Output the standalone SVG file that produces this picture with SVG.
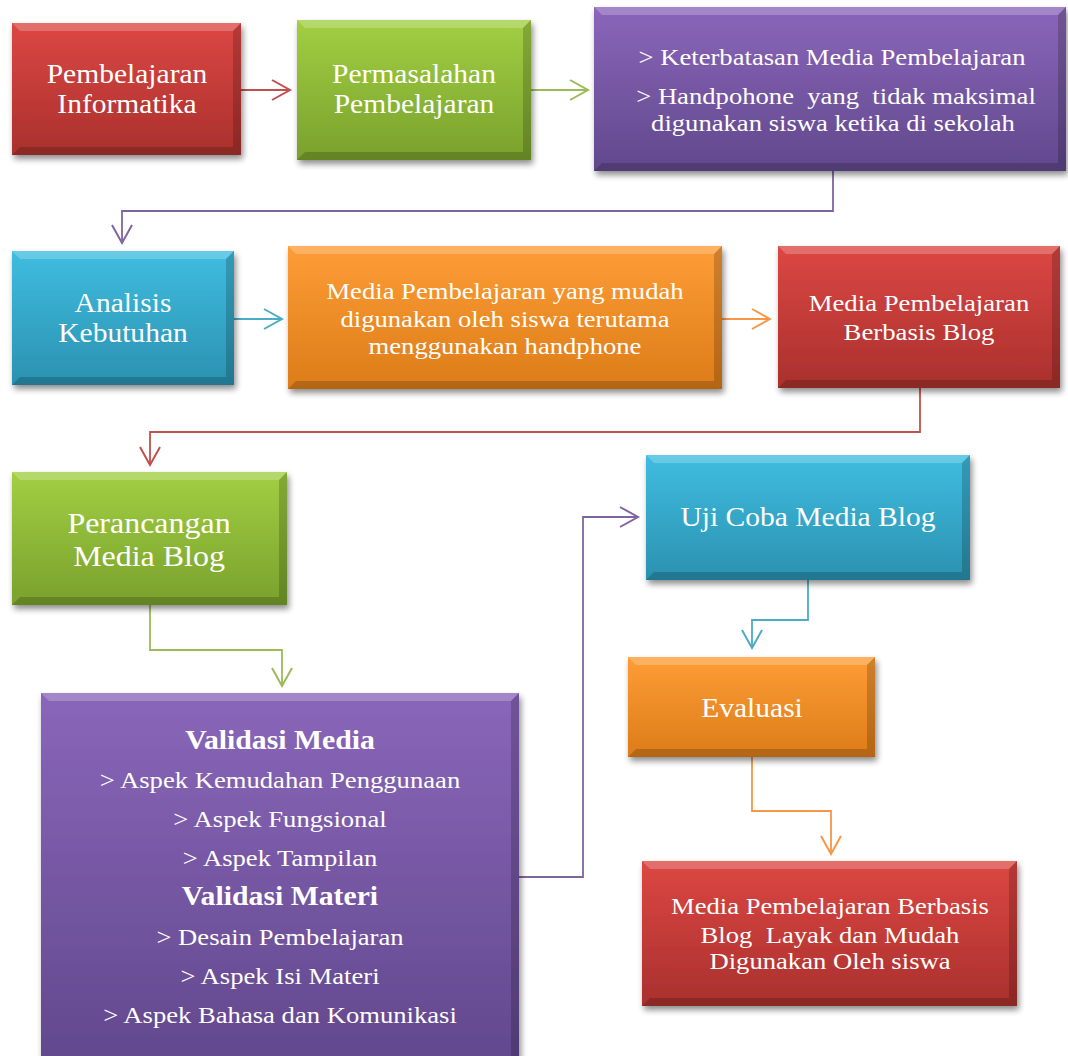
<svg xmlns="http://www.w3.org/2000/svg" width="1068" height="1056" viewBox="0 0 1068 1056">
<defs>
<linearGradient id="gRed" x1="0" y1="0" x2="0" y2="1"><stop offset="0" stop-color="#dc4743"/><stop offset="1" stop-color="#a9302d"/></linearGradient>
<linearGradient id="gGreen" x1="0" y1="0" x2="0" y2="1"><stop offset="0" stop-color="#a2cf43"/><stop offset="1" stop-color="#79a12c"/></linearGradient>
<linearGradient id="gPurple" x1="0" y1="0" x2="0" y2="1"><stop offset="0" stop-color="#8a66ba"/><stop offset="1" stop-color="#61488c"/></linearGradient>
<linearGradient id="gCyan" x1="0" y1="0" x2="0" y2="1"><stop offset="0" stop-color="#3fbde0"/><stop offset="1" stop-color="#2b91b0"/></linearGradient>
<linearGradient id="gOrange" x1="0" y1="0" x2="0" y2="1"><stop offset="0" stop-color="#fe9d36"/><stop offset="1" stop-color="#dc7c19"/></linearGradient>
<filter id="shadow" x="-10%" y="-10%" width="125%" height="130%">
<feGaussianBlur in="SourceAlpha" stdDeviation="3"/>
<feOffset dx="2" dy="4" result="o"/>
<feComponentTransfer><feFuncA type="linear" slope="0.45"/></feComponentTransfer>
<feMerge><feMergeNode/><feMergeNode in="SourceGraphic"/></feMerge>
</filter>
<marker id="aRed" markerUnits="userSpaceOnUse" markerWidth="24" markerHeight="24" viewBox="-20 -12 24 24" refX="0" refY="0" orient="auto"><path d="M-18,-10 L0,0 L-18,10" fill="none" stroke="#c0504d" stroke-width="2"/></marker>
<marker id="aGreen" markerUnits="userSpaceOnUse" markerWidth="24" markerHeight="24" viewBox="-20 -12 24 24" refX="0" refY="0" orient="auto"><path d="M-18,-10 L0,0 L-18,10" fill="none" stroke="#9bbb59" stroke-width="2"/></marker>
<marker id="aPurple" markerUnits="userSpaceOnUse" markerWidth="24" markerHeight="24" viewBox="-20 -12 24 24" refX="0" refY="0" orient="auto"><path d="M-18,-10 L0,0 L-18,10" fill="none" stroke="#8064a2" stroke-width="2"/></marker>
<marker id="aCyan" markerUnits="userSpaceOnUse" markerWidth="24" markerHeight="24" viewBox="-20 -12 24 24" refX="0" refY="0" orient="auto"><path d="M-18,-10 L0,0 L-18,10" fill="none" stroke="#4bacc6" stroke-width="2"/></marker>
<marker id="aOrange" markerUnits="userSpaceOnUse" markerWidth="24" markerHeight="24" viewBox="-20 -12 24 24" refX="0" refY="0" orient="auto"><path d="M-18,-10 L0,0 L-18,10" fill="none" stroke="#f79646" stroke-width="2"/></marker>
</defs>
<style>
.box{filter:url(#shadow)}
.red{fill:url(#gRed)}
.green{fill:url(#gGreen)}
.purple{fill:url(#gPurple)}
.cyan{fill:url(#gCyan)}
.orange{fill:url(#gOrange)}
.hl{fill:#ffffff;fill-opacity:0.22}
.sd{fill:#000000;fill-opacity:0.18}
text{fill:#ffffff;text-anchor:middle}
.t29{font-size:26.6px}
.t265{font-size:24px}
.t27{font-size:24.1px}
.t32{font-size:28.8px}
.b{font-weight:bold;font-size:26.8px}
.c{fill:none;stroke-width:1.8}
</style>
<rect width="1068" height="1056" fill="#ffffff"/>

<g id="connectors">
<path class="c" stroke="#c0504d" d="M241,90 H290" marker-end="url(#aRed)"/>
<path class="c" stroke="#9bbb59" d="M531,90 H588" marker-end="url(#aGreen)"/>
<path class="c" stroke="#8064a2" d="M833,171 V211 H122 V243" marker-end="url(#aPurple)"/>
<path class="c" stroke="#4bacc6" d="M234,319 H282" marker-end="url(#aCyan)"/>
<path class="c" stroke="#f79646" d="M722,319 H770" marker-end="url(#aOrange)"/>
<path class="c" stroke="#c0504d" d="M920,388 V432 H150 V465" marker-end="url(#aRed)"/>
<path class="c" stroke="#9bbb59" d="M150,605 V650 H282 V686" marker-end="url(#aGreen)"/>
<path class="c" stroke="#8064a2" d="M519,877 H583 V517 H638" marker-end="url(#aPurple)"/>
<path class="c" stroke="#4bacc6" d="M808,580 V620 H752 V648" marker-end="url(#aCyan)"/>
<path class="c" stroke="#f79646" d="M752,757 V811 H831 V854" marker-end="url(#aOrange)"/>
</g>

<g font-family="'Liberation Serif', 'DejaVu Serif', serif">
<g id="n1">
<rect class="box red" x="12" y="23" width="229" height="132"/>
<path class="hl" d="M12,23 H241 L233,31 H20 Z"/>
<path class="sd" d="M241,23 V155 H12 L20,147 H233 V31 Z"/>
<text class="t29" x="0" y="83" transform="matrix(1.11 0 0 1 127 0)">Pembelajaran</text>
<text class="t29" x="0" y="113" transform="matrix(1.11 0 0 1 127 0)">Informatika</text>
</g>

<g id="n2">
<rect class="box green" x="297" y="20" width="234" height="140"/>
<path class="hl" d="M297,20 H531 L523,28 H305 Z"/>
<path class="sd" d="M531,20 V160 H297 L305,152 H523 V28 Z"/>
<text class="t29" x="0" y="83" transform="matrix(1.11 0 0 1 414 0)">Permasalahan</text>
<text class="t29" x="0" y="113" transform="matrix(1.11 0 0 1 414 0)">Pembelajaran</text>
</g>

<g id="n3">
<rect class="box purple" x="594" y="7" width="472" height="164"/>
<path class="hl" d="M594,7 H1066 L1058,15 H602 Z"/>
<path class="sd" d="M1066,7 V171 H594 L602,163 H1058 V15 Z"/>
<text class="t265" x="0" y="65" transform="matrix(1.11 0 0 1 832 0)">&gt; Keterbatasan Media Pembelajaran</text>
<text class="t265" x="0" y="104" transform="matrix(1.11 0 0 1 836 0)" xml:space="preserve">&gt; Handpohone  yang  tidak maksimal</text>
<text class="t265" x="0" y="131" transform="matrix(1.11 0 0 1 833 0)">digunakan siswa ketika di sekolah</text>
</g>

<g id="n4">
<rect class="box cyan" x="12" y="251" width="222" height="134"/>
<path class="hl" d="M12,251 H234 L226,259 H20 Z"/>
<path class="sd" d="M234,251 V385 H12 L20,377 H226 V259 Z"/>
<text class="t29" x="0" y="312" transform="matrix(1.11 0 0 1 123 0)">Analisis</text>
<text class="t29" x="0" y="342" transform="matrix(1.11 0 0 1 123 0)">Kebutuhan</text>
</g>

<g id="n5">
<rect class="box orange" x="288" y="246" width="434" height="143"/>
<path class="hl" d="M288,246 H722 L714,254 H296 Z"/>
<path class="sd" d="M722,246 V389 H288 L296,381 H714 V254 Z"/>
<text class="t265" x="0" y="299" transform="matrix(1.11 0 0 1 505 0)">Media Pembelajaran yang mudah</text>
<text class="t265" x="0" y="327" transform="matrix(1.11 0 0 1 505 0)">digunakan oleh siswa terutama</text>
<text class="t265" x="0" y="354" transform="matrix(1.11 0 0 1 505 0)">menggunakan handphone</text>
</g>

<g id="n6">
<rect class="box red" x="778" y="246" width="282" height="142"/>
<path class="hl" d="M778,246 H1060 L1052,254 H786 Z"/>
<path class="sd" d="M1060,246 V388 H778 L786,380 H1052 V254 Z"/>
<text class="t27" x="0" y="311" transform="matrix(1.11 0 0 1 919 0)">Media Pembelajaran</text>
<text class="t27" x="0" y="340" transform="matrix(1.11 0 0 1 919 0)">Berbasis Blog</text>
</g>

<g id="n7">
<rect class="box green" x="12" y="472" width="275" height="133"/>
<path class="hl" d="M12,472 H287 L279,480 H20 Z"/>
<path class="sd" d="M287,472 V605 H12 L20,597 H279 V480 Z"/>
<text class="t32" x="0" y="533" transform="matrix(1.11 0 0 1 149 0)">Perancangan</text>
<text class="t32" x="0" y="566" transform="matrix(1.11 0 0 1 149 0)">Media Blog</text>
</g>

<g id="n8">
<rect class="box purple" x="41" y="693" width="478" height="375"/>
<path class="hl" d="M41,693 H519 L511,701 H49 Z"/>
<path class="sd" d="M519,693 V1068 H511 V701 Z"/>
<text class="b" x="0" y="749" transform="matrix(1.11 0 0 1 280 0)">Validasi Media</text>
<text class="t265" x="0" y="788" transform="matrix(1.11 0 0 1 280 0)">&gt; Aspek Kemudahan Penggunaan</text>
<text class="t265" x="0" y="827" transform="matrix(1.11 0 0 1 280 0)">&gt; Aspek Fungsional</text>
<text class="t265" x="0" y="866" transform="matrix(1.11 0 0 1 280 0)">&gt; Aspek Tampilan</text>
<text class="b" x="0" y="905" transform="matrix(1.11 0 0 1 280 0)">Validasi Materi</text>
<text class="t265" x="0" y="945" transform="matrix(1.11 0 0 1 280 0)">&gt; Desain Pembelajaran</text>
<text class="t265" x="0" y="984" transform="matrix(1.11 0 0 1 280 0)">&gt; Aspek Isi Materi</text>
<text class="t265" x="0" y="1023" transform="matrix(1.11 0 0 1 280 0)">&gt; Aspek Bahasa dan Komunikasi</text>
</g>

<g id="n9">
<rect class="box cyan" x="646" y="455" width="324" height="125"/>
<path class="hl" d="M646,455 H970 L962,463 H654 Z"/>
<path class="sd" d="M970,455 V580 H646 L654,572 H962 V463 Z"/>
<text class="t29" x="0" y="526" transform="matrix(1.11 0 0 1 808 0)">Uji Coba Media Blog</text>
</g>

<g id="n10">
<rect class="box orange" x="628" y="657" width="247" height="100"/>
<path class="hl" d="M628,657 H875 L867,665 H636 Z"/>
<path class="sd" d="M875,657 V757 H628 L636,749 H867 V665 Z"/>
<text class="t29" x="0" y="717" transform="matrix(1.11 0 0 1 752 0)">Evaluasi</text>
</g>

<g id="n11">
<rect class="box red" x="642" y="861" width="375" height="145"/>
<path class="hl" d="M642,861 H1017 L1009,869 H650 Z"/>
<path class="sd" d="M1017,861 V1006 H642 L650,998 H1009 V869 Z"/>
<text class="t265" x="0" y="914" transform="matrix(1.11 0 0 1 830 0)">Media Pembelajaran Berbasis</text>
<text class="t265" x="0" y="943" transform="matrix(1.11 0 0 1 830 0)" xml:space="preserve">Blog  Layak dan Mudah</text>
<text class="t265" x="0" y="969" transform="matrix(1.11 0 0 1 830 0)">Digunakan Oleh siswa</text>
</g>
</g>
</svg>
